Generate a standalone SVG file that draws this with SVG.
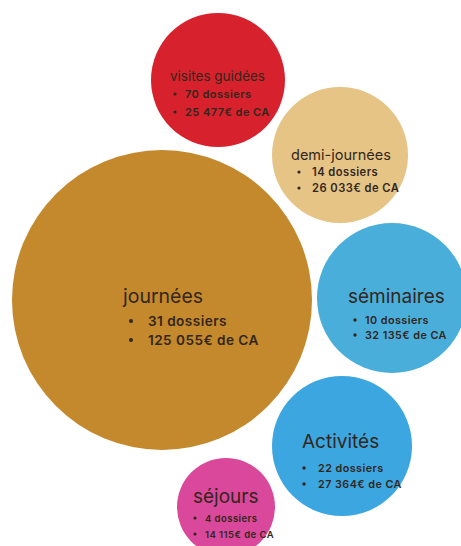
<svg xmlns="http://www.w3.org/2000/svg" width="461" height="546" viewBox="0 0 461 546">
<style>
text{font-family:Inter,"Noto Sans","Liberation Sans",sans-serif;fill:#33261c}
.t{font-weight:400}
.b{font-weight:600;letter-spacing:0.45px}
</style>
<rect width="461" height="546" fill="#ffffff"/>
<g id="visites">
<circle cx="218" cy="80" r="67" fill="#d7222d"/>
<text class="t" x="170" y="81" font-size="13.5">visites guidées</text>
<circle cx="175" cy="94" r="1.6" fill="#33261c"/>
<text class="b" x="185" y="98" font-size="11">70 dossiers</text>
<circle cx="175" cy="112" r="1.6" fill="#33261c"/>
<text class="b" x="185" y="116" font-size="11">25 477€ de CA</text>
</g>
<g id="demi">
<circle cx="340" cy="155" r="68" fill="#e5c486"/>
<text class="t" x="291" y="160" font-size="14.5">demi-journées</text>
<circle cx="299" cy="172" r="1.6" fill="#33261c"/>
<text class="b" x="312" y="176" font-size="11.2">14 dossiers</text>
<circle cx="299" cy="188" r="1.6" fill="#33261c"/>
<text class="b" x="312" y="192" font-size="11.2">26 033€ de CA</text>
</g>
<g id="journees">
<circle cx="162" cy="300" r="150" fill="#c4892d"/>
<text class="t" x="123" y="303" font-size="19.5">journées</text>
<circle cx="131" cy="321" r="2" fill="#33261c"/>
<text class="b" x="148" y="326" font-size="13.6">31 dossiers</text>
<circle cx="131" cy="340" r="2" fill="#33261c"/>
<text class="b" x="148" y="345" font-size="13.6">125 055€ de CA</text>
</g>
<g id="seminaires">
<circle cx="392" cy="298" r="75" fill="#4aaedb"/>
<text class="t" x="348" y="303" font-size="19">séminaires</text>
<circle cx="355" cy="320" r="1.7" fill="#33261c"/>
<text class="b" x="365" y="324" font-size="10.8">10 dossiers</text>
<circle cx="355" cy="335" r="1.7" fill="#33261c"/>
<text class="b" x="365" y="339" font-size="10.8">32 135€ de CA</text>
</g>
<g id="activites">
<circle cx="342" cy="446" r="70" fill="#3ba6e0"/>
<text class="t" x="302" y="448" font-size="19">Activités</text>
<circle cx="304" cy="468" r="1.7" fill="#33261c"/>
<text class="b" x="318" y="472" font-size="10.8">22 dossiers</text>
<circle cx="304" cy="484" r="1.7" fill="#33261c"/>
<text class="b" x="318" y="488" font-size="10.8">27 364€ de CA</text>
</g>
<g id="sejours">
<circle cx="226" cy="507" r="49" fill="#d9489a"/>
<text class="t" x="193" y="503" font-size="19">séjours</text>
<circle cx="195" cy="518" r="1.6" fill="#33261c"/>
<text class="b" x="205" y="522" font-size="9.5">4 dossiers</text>
<circle cx="195" cy="534" r="1.6" fill="#33261c"/>
<text class="b" x="205" y="538" font-size="9.5">14 115€ de CA</text>
</g>
<g id="connectors"></g>
</svg>
